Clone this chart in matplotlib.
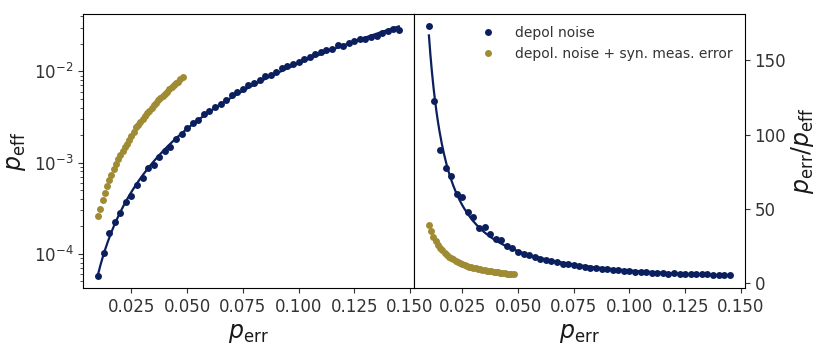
import numpy as np
import matplotlib.pyplot as plt

## depolarising noise only, p_err on a 0.0025 grid
p_dep = [0.0100, 0.0125, 0.0150, 0.0175, 0.0200, 0.0225, 0.0250, 0.0275, 0.0300, 0.0325,
         0.0350, 0.0375, 0.0400, 0.0425, 0.0450, 0.0475, 0.0500, 0.0525, 0.0550, 0.0575,
         0.0600, 0.0625, 0.0650, 0.0675, 0.0700, 0.0725, 0.0750, 0.0775, 0.0800, 0.0825,
         0.0850, 0.0875, 0.0900, 0.0925, 0.0950, 0.0975, 0.1000, 0.1025, 0.1050, 0.1075,
         0.1100, 0.1125, 0.1150, 0.1175, 0.1200, 0.1225, 0.1250, 0.1275, 0.1300, 0.1325,
         0.1350, 0.1375, 0.1400, 0.1425, 0.1450]
peff_dep = [5.78e-5, 1.02e-4, 1.676e-4, 2.258e-4, 2.778e-4, 3.75e-4, 4.31e-4, 5.73e-4, 6.74e-4, 8.78e-4,
            9.33e-4, 1.154e-3, 1.356e-3, 1.491e-3, 1.80e-3, 2.05e-3, 2.40e-3, 2.72e-3, 2.93e-3, 3.37e-3,
            3.70e-3, 4.05e-3, 4.44e-3, 4.90e-3, 5.52e-3, 5.90e-3, 6.45e-3, 7.0e-3, 7.4e-3, 8.1e-3,
            8.8e-3, 9.2e-3, 9.9e-3, 1.09e-2, 1.13e-2, 1.20e-2, 1.26e-2, 1.37e-2, 1.44e-2, 1.53e-2,
            1.62e-2, 1.70e-2, 1.74e-2, 1.95e-2, 1.90e-2, 2.04e-2, 2.13e-2, 2.26e-2, 2.24e-2, 2.37e-2,
            2.44e-2, 2.64e-2, 2.76e-2, 2.92e-2, 2.81e-2]

## depolarising noise + synthetic measurement error, 0.001 grid
p_syn = [0.010, 0.011, 0.012, 0.013, 0.014, 0.015, 0.016, 0.017, 0.018, 0.019,
         0.020, 0.021, 0.022, 0.023, 0.024, 0.025, 0.026, 0.027, 0.028, 0.029,
         0.030, 0.031, 0.032, 0.033, 0.034, 0.035, 0.036, 0.037, 0.038, 0.039,
         0.040, 0.041, 0.042, 0.043, 0.044, 0.045, 0.046, 0.047, 0.048]
peff_syn = [2.58e-4, 3.14e-4, 3.87e-4, 4.64e-4, 5.49e-4, 6.47e-4, 7.34e-4, 8.50e-4, 9.68e-4, 1.086e-3,
            1.205e-3, 1.329e-3, 1.477e-3, 1.620e-3, 1.791e-3, 1.969e-3, 2.185e-3, 2.455e-3, 2.593e-3, 2.816e-3,
            3.030e-3, 3.229e-3, 3.478e-3, 3.708e-3, 4.0e-3, 4.268e-3, 4.5e-3, 4.805e-3, 5.067e-3, 5.342e-3,
            5.634e-3, 5.942e-3, 6.364e-3, 6.719e-3, 7.097e-3, 7.377e-3, 7.731e-3, 8.174e-3, 8.571e-3]

navy = '#0b1f5e'
gold = '#a08b35'

p_dep = np.asarray(p_dep)
peff_dep = np.asarray(peff_dep)
p_syn = np.asarray(p_syn)
peff_syn = np.asarray(peff_syn)
ratio_dep = p_dep / peff_dep
ratio_syn = p_syn / peff_syn

##fit ratio = A*p**k + C  (scan k, least squares for A and C)
best = None
for k in np.arange(-2.0, -0.5, 0.005):
    M = np.column_stack([p_dep**k, np.ones_like(p_dep)])
    coef, res, _, _ = np.linalg.lstsq(M, ratio_dep, rcond=None)
    r = np.sum((M @ coef - ratio_dep)**2)
    if best is None or r < best[0]:
        best = (r, k, coef)
_, k, (A, C) = best
p_fit = np.linspace(p_dep.min(), p_dep.max(), 400)
ratio_fit = A * p_fit**k + C

plt.rcParams['font.size'] = 12
plt.rcParams['text.color'] = '0.2'
plt.rcParams['xtick.color'] = '0.2'
plt.rcParams['ytick.color'] = '0.2'
plt.rcParams['xtick.labelcolor'] = '0.2'
plt.rcParams['ytick.labelcolor'] = '0.2'
plt.rcParams['axes.labelcolor'] = '0.1'

fig, (ax1, ax2) = plt.subplots(1, 2, figsize=(8.22, 3.48), dpi=100)
fig.subplots_adjust(left=0.101, right=0.906, top=0.960, bottom=0.172, wspace=0)

ax1.plot(p_fit, p_fit / ratio_fit, '-', color=navy, lw=1.6)
ax1.plot(p_dep, peff_dep, 'o', color=navy, ms=5, mew=0)
ax1.plot(p_syn, peff_syn, 'o', color=gold, ms=5, mew=0)
ax1.set_yscale('log')
ax1.set_xlabel(r'$p_{\rm err}$', fontsize=17)
ax1.set_ylabel(r'$p_{\rm eff}$', fontsize=17)

ax2.plot(p_fit, ratio_fit, '-', color=navy, lw=1.6)
ax2.plot(p_dep, ratio_dep, 'o', color=navy, ms=5, mew=0, label='depol noise')
ax2.plot(p_syn, ratio_syn, 'o', color=gold, ms=5, mew=0, label='depol. noise + syn. meas. error')
ax2.yaxis.tick_right()
ax2.yaxis.set_label_position('right')
ax2.set_yticks([0, 50, 100, 150])
ax2.set_xlabel(r'$p_{\rm err}$', fontsize=17)
ax2.set_ylabel(r'$p_{\rm err}/p_{\rm eff}$', fontsize=17, labelpad=2)

##legend only shows the markers
h, l = ax2.get_legend_handles_labels()
ax2.legend(h[-2:], l[-2:], loc='upper right', frameon=False, fontsize=10,
           handletextpad=1.0, borderaxespad=0.45)

plt.savefig('out.png', dpi=100)
